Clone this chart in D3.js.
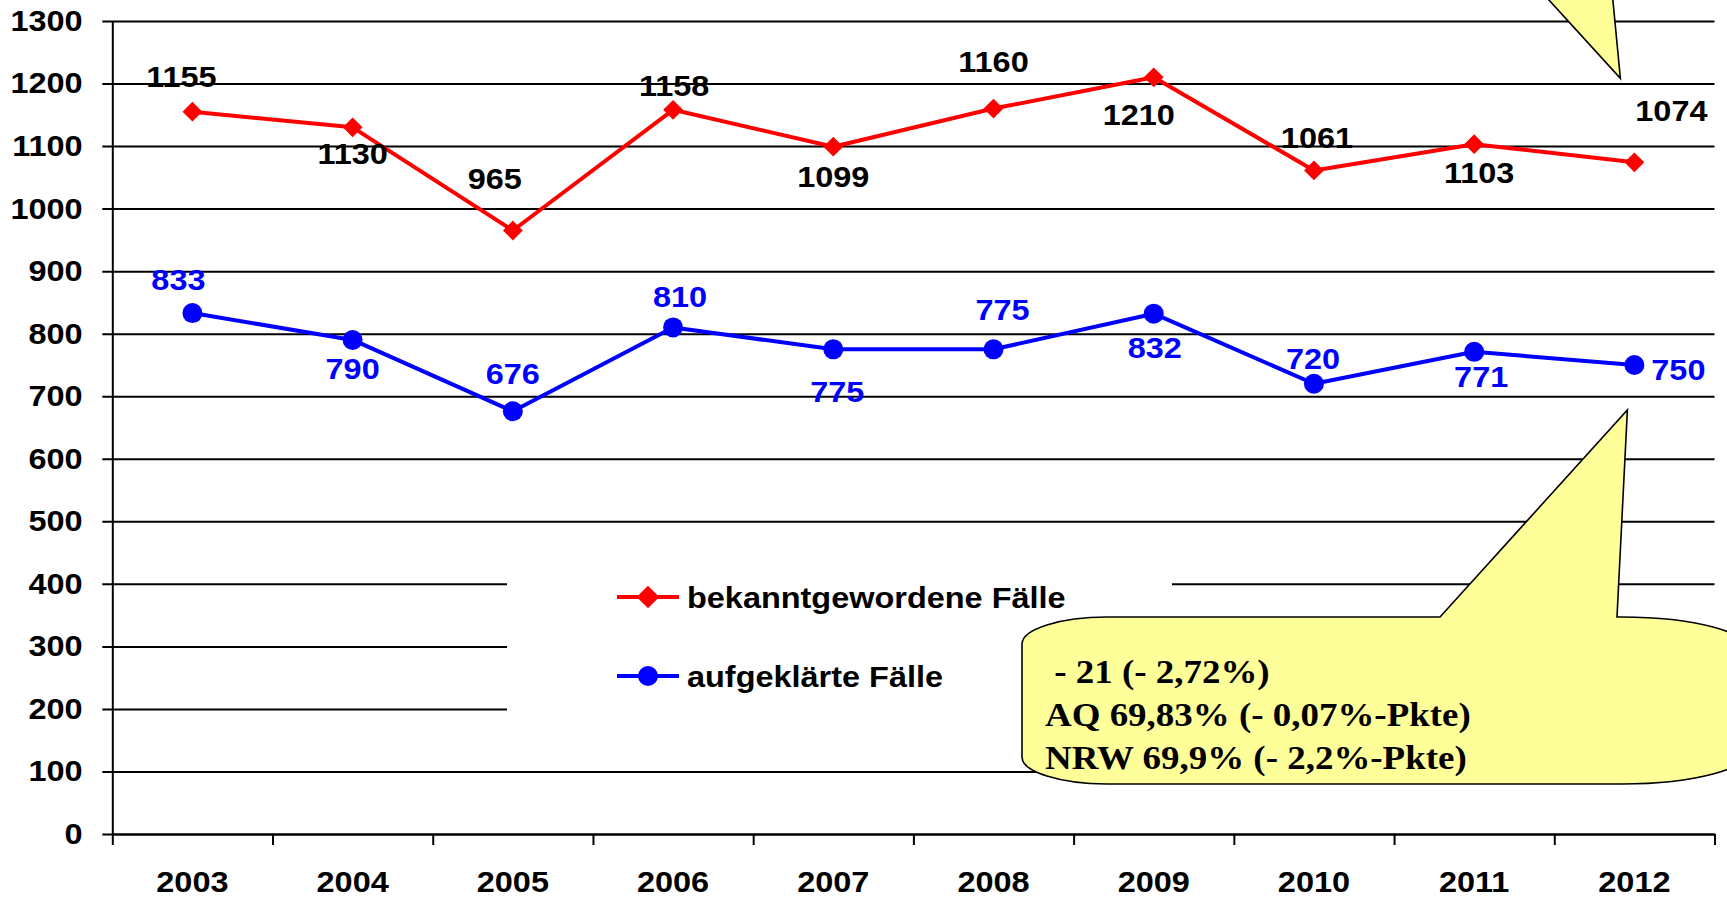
<!DOCTYPE html>
<html>
<head>
<meta charset="utf-8">
<script src="https://cdn.jsdelivr.net/npm/d3@7/dist/d3.min.js"></script>
<style>
  body { margin: 0; background: #fff; }
  svg { display: block; }
  text { font-family: Arial, "Liberation Sans", sans-serif; font-weight: bold; }
</style>
</head>
<body>
<div id="chart"></div>
<script>
// data
var years = ["2003", "2004", "2005", "2006", "2007", "2008", "2009", "2010", "2011", "2012"];
var known = [1155, 1130, 965, 1158, 1099, 1160, 1210, 1061, 1103, 1074];
var solved = [833, 790, 676, 810, 775, 775, 832, 720, 771, 750];
var yTicks = [0, 100, 200, 300, 400, 500, 600, 700, 800, 900, 1000, 1100, 1200, 1300];
var seriesNames = ["bekanntgewordene Fälle", "aufgeklärte Fälle"];
var noteLines = [" - 21 (- 2,72%)", "AQ 69,83% (- 0,07%-Pkte)", "NRW 69,9% (- 2,2%-Pkte)"];

// where each value label sits relative to its point (layout only)
var knownLabelOff = [[-11,-35],[0,26],[-18,-52],[1,-24],[0,30],[0,-47],[-15,37],[3,-33],[5,28],[37,-52]];
var solvedLabelOff = [[-14,-34],[0,28],[0,-38],[7,-31],[4,42],[9,-40],[1,34],[-1,-25],[7,25],[44,4]];

var W = 1727, H = 899;
var plotLeft = 112.3, plotRight = 1714.5, plotTop = 21, plotBottom = 834;
var red = "#ff0000", blue = "#0000ff", note = "#ffff99";
var sx = 1.1;

var svg = d3.select("#chart").append("svg")
    .attr("width", W)
    .attr("height", H);

var x = d3.scaleBand().domain(years).range([plotLeft, plotRight]);
var y = d3.scaleLinear().domain([0, 1300]).range([plotBottom, plotTop]);
var cx = function(i) { return x(years[i]) + x.bandwidth() / 2; };

//grid lines (run from the outer tick end to the right edge)
var grid = svg.append("g")
    .attr("transform", "translate(" + plotRight + ",0)")
    .call(d3.axisLeft(y).tickValues(yTicks).tickSize(plotRight - plotLeft + 10).tickFormat(""));
grid.select(".domain").remove();
grid.selectAll("line").attr("stroke", "#000").attr("stroke-width", 2);

// y axis
var yAxis = svg.append("g")
    .attr("transform", "translate(" + plotLeft + ",0)")
    .call(d3.axisLeft(y).tickValues(yTicks).tickFormat(d3.format("d"))
        .tickSize(0).tickSizeOuter(0).tickPadding(27));
yAxis.select(".domain").attr("stroke", "#000").attr("stroke-width", 2);
yAxis.attr("font-size", 29.5);
yAxis.selectAll("text").attr("fill", "#000").attr("transform", "scale(" + sx + ",1)");

// x axis, labels in the middle of each band
var xAxis = svg.append("g")
    .attr("transform", "translate(0," + plotBottom + ")")
    .call(d3.axisBottom(x).tickSize(0).tickSizeOuter(0).tickPadding(37));
xAxis.select(".domain").attr("stroke", "#000").attr("stroke-width", 2);
xAxis.attr("font-size", 29.5);
xAxis.selectAll("text").attr("fill", "#000").attr("transform", "scale(" + sx + ",1)");

// tick marks on the band borders
var edges = d3.scaleLinear().domain([0, years.length]).range([plotLeft, plotRight]);
var xTicks = svg.append("g")
    .attr("transform", "translate(0," + plotBottom + ")")
    .call(d3.axisBottom(edges).ticks(years.length).tickSize(11).tickFormat(""));
xTicks.select(".domain").remove();
xTicks.selectAll("line").attr("stroke", "#000").attr("stroke-width", 2);

// legend box hides part of the grid
svg.append("rect")
    .attr("x", 507).attr("y", 545)
    .attr("width", 665).attr("height", 190)
    .attr("fill", "#fff");

var diamond = function(side) { return d3.symbol().type(d3.symbolSquare).size(side * side)(); };

var series = [
    {name: seriesNames[0], values: known, color: red, mark: "diamond", off: knownLabelOff, labelColor: "#000"},
    {name: seriesNames[1], values: solved, color: blue, mark: "circle", off: solvedLabelOff, labelColor: blue}
];

var line = d3.line()
    .x(function(d, i) { return cx(i); })
    .y(function(d) { return y(d); });

series.forEach(function(s, k) {
    svg.append("path")
        .datum(s.values)
        .attr("d", line)
        .attr("fill", "none")
        .attr("stroke", s.color)
        .attr("stroke-width", 4)
        .attr("stroke-linejoin", "round");

    var marks = svg.append("g").selectAll("g")
        .data(s.values)
        .enter().append("g")
        .attr("transform", function(d, i) { return "translate(" + cx(i) + "," + y(d) + ")"; });
    if (s.mark == "diamond") {
        marks.append("path").attr("d", diamond(14)).attr("transform", "rotate(45)").attr("fill", s.color);
    } else {
        marks.append("circle").attr("r", 10).attr("fill", s.color);
    }

    svg.append("g").selectAll("text")
        .data(s.values)
        .enter().append("text")
        .attr("transform", function(d, i) {
            return "translate(" + (cx(i) + s.off[i][0]) + "," + (y(d) + s.off[i][1]) + ") scale(" + sx + ",1)";
        })
        .attr("text-anchor", "middle")
        .attr("dy", "0.36em")
        .attr("font-size", 29.5)
        .attr("fill", s.labelColor)
        .text(function(d) { return d; });

    //legend entry
    var ly = 597 + k * 79;
    var lg = svg.append("g").attr("transform", "translate(617," + ly + ")");
    lg.append("line").attr("x1", 0).attr("x2", 62).attr("stroke", s.color).attr("stroke-width", 4);
    if (s.mark == "diamond") {
        lg.append("path").attr("d", diamond(16)).attr("transform", "translate(31,0) rotate(45)").attr("fill", s.color);
    } else {
        lg.append("circle").attr("cx", 31).attr("r", 10).attr("fill", s.color);
    }
    lg.append("text")
        .attr("transform", "translate(70,0) scale(" + sx + ",1)")
        .attr("dy", "0.36em")
        .attr("font-size", 29.5)
        .attr("fill", "#000")
        .text(s.name);
});

// callouts
var last = years.length - 1;
function bubble(L, T, R, B, rl, rlY, rr, rrY, b1, b2, tip) {
    return "M" + (L + rl) + "," + T +
        " L" + b1 + "," + T + " L" + tip[0] + "," + tip[1] + " L" + b2 + "," + T +
        " L" + (R - rr) + "," + T +
        " A" + rr + "," + rrY + " 0 0 1 " + R + "," + (T + rrY) +
        " L" + R + "," + (B - rrY) +
        " A" + rr + "," + rrY + " 0 0 1 " + (R - rr) + "," + B +
        " L" + (L + rl) + "," + B +
        " A" + rl + "," + rlY + " 0 0 1 " + L + "," + (B - rlY) +
        " L" + L + "," + (T + rlY) +
        " A" + rl + "," + rlY + " 0 0 1 " + (L + rl) + "," + T + " Z";
}

var tipLow = [cx(last) - 7, y(solved[last]) + 45];
svg.append("path")
    .attr("d", bubble(1022, 617, 1752, 784, 85, 27, 130, 35, 1440, 1617, tipLow))
    .attr("fill", note)
    .attr("stroke", "#000")
    .attr("stroke-width", 1.6);

var tipHigh = [cx(last) - 14, y(known[last]) - 84];
svg.append("path")
    .attr("d", "M" + (tipHigh[0] - 76) + ",-5 L" + tipHigh[0] + "," + tipHigh[1] + " L" + (tipHigh[0] - 8) + ",-5 Z")
    .attr("fill", note)
    .attr("stroke", "#000")
    .attr("stroke-width", 1.6);

svg.append("g").selectAll("text")
    .data(noteLines)
    .enter().append("text")
    .attr("transform", function(d, i) { return "translate(1045," + (683 + i * 43) + ") scale(1.12,1)"; })
    .style("font-family", "'Times New Roman', 'Liberation Serif', serif")
    .attr("font-size", 33)
    .attr("fill", "#000")
    .style("white-space", "pre")
    .text(function(d) { return d; });
</script>
</body>
</html>
